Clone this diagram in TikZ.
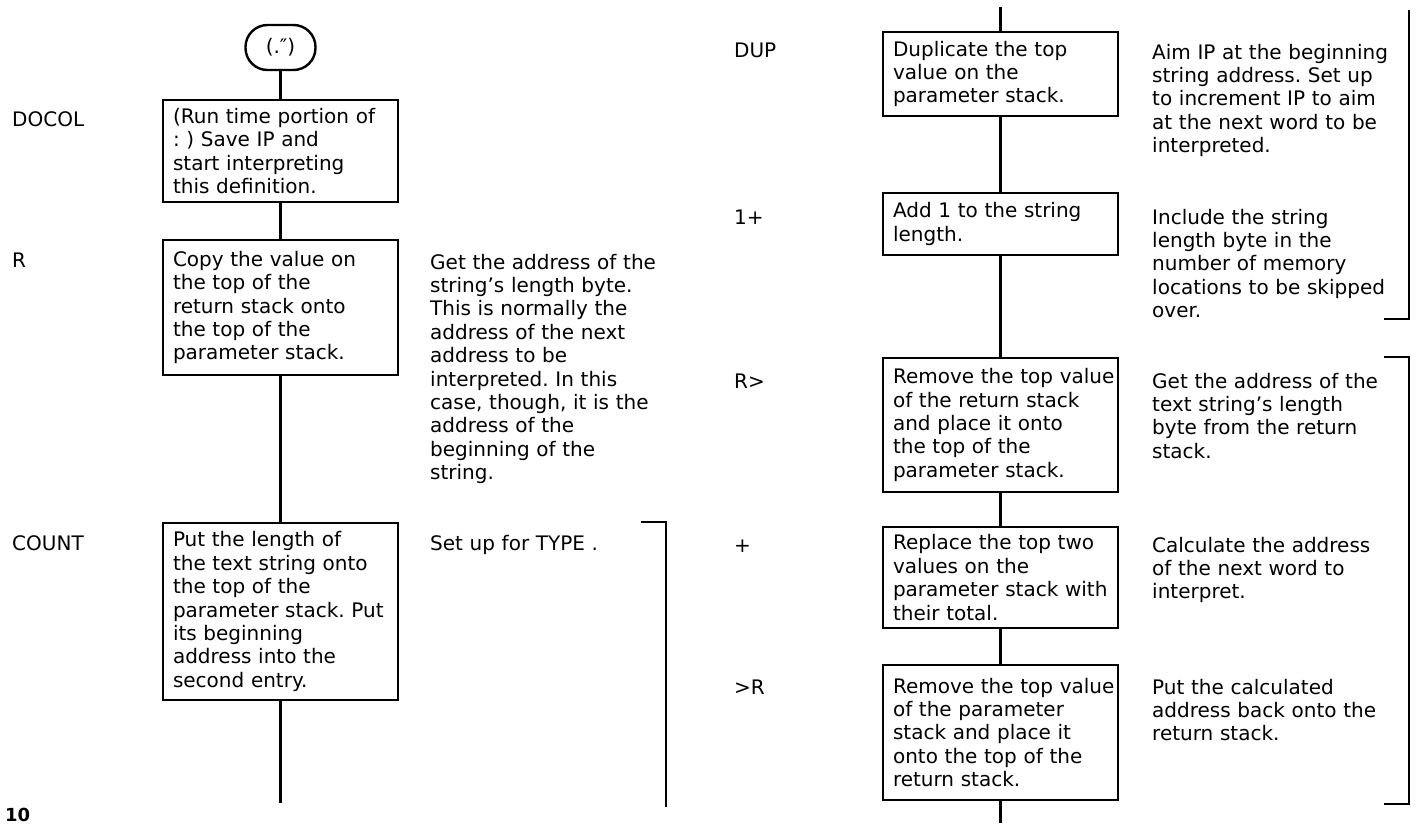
\documentclass[tikz,border=0pt]{standalone}
\usepackage{fontspec}
\setmainfont{DejaVu Sans}
\usetikzlibrary{positioning}
\frenchspacing

\begin{document}
\begin{tikzpicture}[
  x=1pt, y=-1pt,
  font=\fontsize{20}{23.4}\selectfont,
  box/.style={draw, line width=2.4pt, inner xsep=0pt, inner ysep=0pt,
              text width=235pt, align=left, minimum height=#1,
              execute at begin node={\leftskip=10pt\relax}},
  start/.style={draw, line width=2.4pt, rounded corners=22pt,
                minimum width=70pt, minimum height=45pt, inner sep=0pt},
  word/.style={anchor=base west, inner sep=0pt},
  note/.style={anchor=base west, inner sep=0pt, text width=270pt, align=left},
  wire/.style={line width=2.4pt},
  bracket/.style={line width=2.4pt},
]
  \useasboundingbox (0,0) rectangle (1416,825);

  % left column
  \node[start] (paren) at (280.5,47.5) {(.\symbol{"2033})};
  \node[box=102pt] (docol) at (280.5,151)
    {(Run time portion of\\: ) Save IP and\\start interpreting\\this definition.};
  \node[box=135pt] (rtop) at (280.5,307.5)
    {Copy the value on\\the top of the\\return stack onto\\the top of the\\parameter stack.};
  \node[box=177pt] (count) at (280.5,611.5)
    {Put the length of\\the text string onto\\the top of the\\parameter stack. Put\\its beginning\\address into the\\second entry.};
  \coordinate (leftend) at (280.5,803);

  \draw[wire] (paren) -- (docol);
  \draw[wire] (docol) -- (rtop);
  \draw[wire] (rtop) -- (count);
  \draw[wire] (count) -- (leftend);

  \node[word] (docolname) at (12,126) {DOCOL};
  \node[word] (rname) at (12,267) {R};
  \node[word] (countname) at (12,550) {COUNT};

  \node[note] (rnote) at (430,269)
    {Get the address of the\\string's length byte.\\This is normally the\\address of the next\\address to be\\interpreted. In this\\case, though, it is the\\address of the\\beginning of the\\string.};
  \node[note] (countnote) at (430,550) {Set up for TYPE .};

  \draw[bracket] (641,522) -- (666,522) -- (666,807);

  \node[word, font=\bfseries\fontsize{18}{20}\selectfont] (pagenum) at (5,821) {10};

  % right column
  \coordinate (righttop) at (1000.5,7);
  \node[box=84pt] (dup) at (1000.5,74)
    {Duplicate the top\\value on the\\parameter stack.};
  \node[box=62pt] (oneplus) at (1000.5,224)
    {Add 1 to the string\\length.};
  \node[box=134pt] (rfrom) at (1000.5,425)
    {Remove the top value\\of the return stack\\and place it onto\\the top of the\\parameter stack.};
  \node[box=101pt] (plus) at (1000.5,577.5)
    {Replace the top two\\values on the\\parameter stack with\\their total.};
  \node[box=135pt] (tor) at (1000.5,732.5)
    {Remove the top value\\of the parameter\\stack and place it\\onto the top of the\\return stack.};
  \coordinate (rightend) at (1000.5,823);

  \draw[wire] (righttop) -- (dup);
  \draw[wire] (dup) -- (oneplus);
  \draw[wire] (oneplus) -- (rfrom);
  \draw[wire] (rfrom) -- (plus);
  \draw[wire] (plus) -- (tor);
  \draw[wire] (tor) -- (rightend);

  \node[word] (dupname) at (734,57) {DUP};
  \node[word] (oneplusname) at (734,224) {1+};
  \node[word] (rfromname) at (734,388) {R>};
  \node[word] (plusname) at (734,552) {+};
  \node[word] (torname) at (734,694) {>R};

  \node[note] (dupnote) at (1152,59)
    {Aim IP at the beginning\\string address. Set up\\to increment IP to aim\\at the next word to be\\interpreted.};
  \node[note] (oneplusnote) at (1152,224)
    {Include the string\\length byte in the\\number of memory\\locations to be skipped\\over.};
  \node[note] (rfromnote) at (1152,388)
    {Get the address of the\\text string's length\\byte from the return\\stack.};
  \node[note] (plusnote) at (1152,552)
    {Calculate the address\\of the next word to\\interpret.};
  \node[note] (tornote) at (1152,694)
    {Put the calculated\\address back onto the\\return stack.};

  \draw[bracket] (1409,10) -- (1409,319) -- (1384,319);
  \draw[bracket] (1384,357) -- (1409,357) -- (1409,804) -- (1384,804);
\end{tikzpicture}
\end{document}
